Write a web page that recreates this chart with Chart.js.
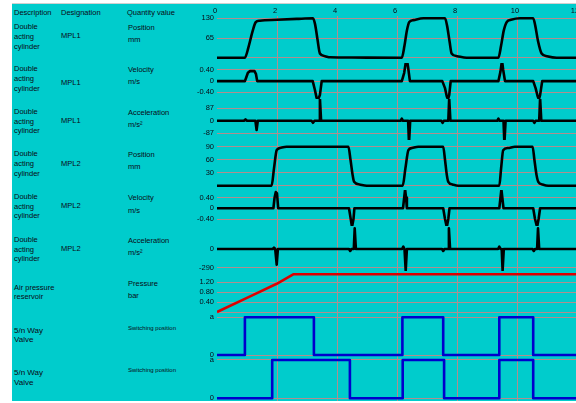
<!DOCTYPE html>
<html><head><meta charset="utf-8">
<script src="https://cdn.jsdelivr.net/npm/chart.js@4.4.0/dist/chart.umd.min.js"></script>
<style>
html,body{margin:0;padding:0;width:576px;height:403px;overflow:hidden;background:#fff;}
#bg{position:absolute;left:12px;top:4px;width:564px;height:397px;background:#00cccc;}
#topline{position:absolute;left:12px;top:3px;width:564px;height:1px;background:#d0d0d0;}
#wrap{position:absolute;left:0;top:0;width:576px;height:403px;overflow:hidden;}
canvas{position:absolute;left:0;top:0;}
.t{position:absolute;font-family:Arial,"Liberation Sans",sans-serif;font-size:7.5px;line-height:10px;color:#0a0a14;white-space:nowrap;}
.s{font-size:6px;}
.b{font-size:8px;}
</style></head><body>
<div id="bg"></div><div id="topline"></div>
<div class="t" style="left:14px;top:7.7px">Description</div>
<div class="t" style="left:61px;top:7.7px">Designation</div>
<div class="t" style="left:127px;top:7.7px">Quantity value</div>

<div class="t" style="left:14px;top:21.7px">Double</div>
<div class="t" style="left:14px;top:31.7px">acting</div>
<div class="t" style="left:14px;top:41.7px">cylinder</div>
<div class="t" style="left:61px;top:31px">MPL1</div>
<div class="t" style="left:128px;top:23px">Position</div>
<div class="t" style="left:128px;top:35px">mm</div>

<div class="t" style="left:14px;top:64.3px">Double</div>
<div class="t" style="left:14px;top:74.3px">acting</div>
<div class="t" style="left:14px;top:83.7px">cylinder</div>
<div class="t" style="left:61px;top:77.7px">MPL1</div>
<div class="t" style="left:128px;top:65px">Velocity</div>
<div class="t" style="left:128px;top:77px">m/s</div>

<div class="t" style="left:14px;top:107px">Double</div>
<div class="t" style="left:14px;top:117px">acting</div>
<div class="t" style="left:14px;top:126.3px">cylinder</div>
<div class="t" style="left:61px;top:116px">MPL1</div>
<div class="t" style="left:128px;top:108px">Acceleration</div>
<div class="t" style="left:128px;top:119.7px">m/s²</div>

<div class="t" style="left:14px;top:149.3px">Double</div>
<div class="t" style="left:14px;top:159px">acting</div>
<div class="t" style="left:14px;top:169px">cylinder</div>
<div class="t" style="left:61px;top:158.7px">MPL2</div>
<div class="t" style="left:128px;top:150.3px">Position</div>
<div class="t" style="left:128px;top:162.3px">mm</div>

<div class="t" style="left:14px;top:191.7px">Double</div>
<div class="t" style="left:14px;top:201.7px">acting</div>
<div class="t" style="left:14px;top:211.3px">cylinder</div>
<div class="t" style="left:61px;top:201px">MPL2</div>
<div class="t" style="left:128px;top:193.3px">Velocity</div>
<div class="t" style="left:128px;top:205.7px">m/s</div>

<div class="t" style="left:14px;top:235px">Double</div>
<div class="t" style="left:14px;top:245px">acting</div>
<div class="t" style="left:14px;top:254.3px">cylinder</div>
<div class="t" style="left:61px;top:243.7px">MPL2</div>
<div class="t" style="left:128px;top:236px">Acceleration</div>
<div class="t" style="left:128px;top:247.7px">m/s²</div>

<div class="t" style="left:14px;top:283.3px">Air pressure</div>
<div class="t" style="left:14px;top:292.3px">reservoir</div>
<div class="t" style="left:128px;top:279px">Pressure</div>
<div class="t" style="left:128px;top:291px">bar</div>

<div class="t b" style="left:14px;top:325.7px">5/n Way</div>
<div class="t b" style="left:14px;top:335px">Valve</div>
<div class="t s" style="left:128px;top:322.7px">Switching position</div>

<div class="t b" style="left:14px;top:368.3px">5/n Way</div>
<div class="t b" style="left:14px;top:377.7px">Valve</div>
<div class="t s" style="left:128px;top:365px">Switching position</div>

<div id="wrap"><canvas id="c" width="600" height="403"></canvas></div>
<script>
// ---- time axis ----
const timeTicks = [0, 2, 4, 6, 8, 10, 12];

// ---- MPL1 position (mm) ----
const mpl1PosT = [0, 0.93, 1.05, 1.18, 1.29, 1.43, 2.0, 2.66, 3.2, 3.27, 3.35, 3.43, 3.6, 3.77, 4.5, 6.16, 6.25, 6.33, 6.41, 6.55, 6.88, 7.6, 7.67, 7.75, 7.82, 8.0, 8.32, 9.38, 9.47, 9.56, 9.66, 9.8, 10.1, 10.54, 10.61, 10.7, 10.82, 11.0, 11.32, 12];
const mpl1PosV = [0, 0, 35, 85, 117, 122, 125, 128, 130, 110, 60, 14, 5, 1.5, 0.5, 0, 40, 90, 118, 124, 130, 130, 105, 55, 14, 5, 0, 0, 40, 90, 118, 125, 130, 130, 105, 55, 14, 5, 0, 0];

// ---- MPL1 velocity (m/s) ----
const mpl1VelT = [0, 0.93, 0.98, 1.03, 1.1, 1.25, 1.3, 1.34, 3.19, 3.26, 3.32, 3.38, 3.43, 3.49, 6.16, 6.24, 6.3, 6.33, 6.37, 6.43, 7.51, 7.6, 7.66, 7.7, 7.74, 7.79, 9.38, 9.45, 9.5, 9.54, 9.6, 10.54, 10.62, 10.69, 10.73, 10.77, 10.84, 12];
const mpl1VelV = [0, 0, 0.15, 0.3, 0.36, 0.36, 0.25, 0, 0, -0.3, -0.6, -0.63, -0.5, 0, 0, 0.3, 0.72, 0.77, 0.5, 0, 0, -0.25, -0.55, -0.65, -0.5, 0, 0, 0.35, 0.74, 0.4, 0, 0, -0.25, -0.55, -0.65, -0.5, 0, 0];

// ---- MPL1 acceleration (m/s²) ----
const mpl1AccT = [0, 0.9, 0.95, 1.0, 1.28, 1.32, 1.36, 3.15, 3.2, 3.25, 3.4, 3.43, 3.47, 6.12, 6.16, 6.2, 6.37, 6.4, 6.44, 7.48, 7.52, 7.56, 7.71, 7.74, 7.78, 9.34, 9.38, 9.42, 9.55, 9.58, 9.62, 10.54, 10.58, 10.62, 10.74, 10.77, 10.81, 12];
const mpl1AccV = [0, 0, 10, 0, 0, -64, 0, 0, -14, 0, 0, 159, 0, 0, 15, 0, 0, -157, 0, 0, -14, 0, 0, 159, 0, 0, 15, 0, 0, -157, 0, 0, -14, 0, 0, 159, 0, 0];

// ---- MPL2 position (mm) ----
const mpl2PosT = [0, 1.82, 1.9, 1.99, 2.1, 2.32, 4.38, 4.45, 4.52, 4.57, 4.75, 4.99, 6.19, 6.28, 6.38, 6.5, 6.71, 7.54, 7.6, 7.66, 7.71, 7.85, 8.04, 9.41, 9.47, 9.54, 9.7, 9.93, 10.52, 10.58, 10.65, 10.71, 10.85, 11.04, 12];
const mpl2PosV = [0, 0, 40, 82, 87, 90, 90, 60, 25, 9, 3, 0, 0, 40, 82, 87, 90, 90, 60, 25, 9, 3, 0, 0, 40, 82, 87, 90, 90, 60, 25, 9, 3, 0, 0];

// ---- MPL2 velocity (m/s) ----
const mpl2VelT = [0, 1.88, 1.92, 1.96, 2.0, 2.04, 4.4, 4.45, 4.5, 4.55, 4.58, 6.2, 6.24, 6.27, 6.3, 6.33, 7.54, 7.6, 7.66, 7.71, 7.75, 9.41, 9.45, 9.48, 9.51, 9.55, 10.54, 10.6, 10.67, 10.72, 10.77, 12];
const mpl2VelV = [0, 0, 0.4, 0.6, 0.55, 0, 0, -0.35, -0.7, -0.4, 0, 0, 0.4, 0.71, 0.4, 0, 0, -0.4, -0.7, -0.4, 0, 0, 0.4, 0.71, 0.4, 0, 0, -0.4, -0.7, -0.4, 0, 0];

// ---- MPL2 acceleration (m/s²) ----
const mpl2AccT = [0, 1.86, 1.9, 1.94, 1.96, 1.99, 2.03, 4.4, 4.44, 4.48, 4.56, 4.59, 4.63, 6.17, 6.21, 6.25, 6.26, 6.29, 6.33, 7.5, 7.54, 7.58, 7.7, 7.73, 7.77, 9.37, 9.41, 9.45, 9.49, 9.52, 9.56, 10.52, 10.56, 10.6, 10.67, 10.7, 10.74, 12];
const mpl2AccV = [0, 0, 20, 0, 0, -240, 0, 0, -30, 0, 0, 315, 0, 0, 35, 0, 0, -330, 0, 0, -30, 0, 0, 315, 0, 0, 35, 0, 0, -330, 0, 0, -30, 0, 0, 315, 0, 0];

// ---- Air pressure reservoir (bar) ----
const pressT = [0, 1.21, 1.99, 2.54, 12];
const pressV = [0.01, 0.7, 1.14, 1.52, 1.52];

// ---- 5/n way valves (0 / a) ----
const valve1T = [0, 0.93, 3.23, 6.18, 7.54, 9.41, 10.54, 12];
const valve1V = [0, 1, 0, 1, 0, 1, 0, 0];
const valve2T = [0, 1.84, 4.43, 6.19, 7.57, 9.41, 10.54, 12];
const valve2V = [0, 1, 0, 1, 0, 1, 0, 0];

// ---- y tick values / labels per panel ----
const p1Ticks = [130, 65, 0],        p1Labels = ['130', '65', ''];
const p2Ticks = [0.4, 0, -0.4],      p2Labels = ['0.40', '0', '-0.40'];
const p3Ticks = [87, 0, -87],        p3Labels = ['87', '0', '-87'];
const p4Ticks = [90, 60, 30, 0],     p4Labels = ['90', '60', '30', ''];
const p5Ticks = [0.4, 0, -0.4],      p5Labels = ['0.40', '0', '-0.40'];
const p6Ticks = [0, -290],           p6Labels = ['0', '-290'];
const p7Ticks = [1.2, 0.8, 0.4, 0],  p7Labels = ['1.20', '0.80', '0.40', ''];
const p8Ticks = [1, 0],              p8Labels = ['a', '0'];
const p9Ticks = [1, 0],              p9Labels = ['a', '0'];

const FONT = {family: 'Arial, "Liberation Sans", sans-serif', size: 7.5};
const TXT = '#0a0a14';
const GRID = '#b08e8e';
const AXIS_W = 217;

function pts(ts, vs) { return ts.map((t, i) => ({x: t, y: vs[i]})); }

function yScale(order, weightH, min, max, ticks, labels) {
  return {
    type: 'linear', position: 'left', stack: 'panels', stackWeight: weightH,
    weight: order, min: min, max: max, offset: false,
    border: {display: false},
    grid: {color: GRID, lineWidth: 1, drawTicks: false},
    ticks: {font: FONT, color: TXT, padding: 3, autoSkip: false, callback: (v, i) => labels[i]},
    afterBuildTicks: s => { s.ticks = ticks.map(v => ({value: v})); },
    afterFit: s => { s.width = AXIS_W; s.paddingTop = 0; s.paddingBottom = 0; }
  };
}

const lineBase = {pointRadius: 0, borderWidth: 2.6, fill: false, borderJoinStyle: 'round'};

new Chart(document.getElementById('c'), {
  type: 'line',
  data: {
    datasets: [
      Object.assign({data: pts(mpl1PosT, mpl1PosV), yAxisID: 'y1', borderColor: '#000', cubicInterpolationMode: 'monotone'}, lineBase),
      Object.assign({data: pts(mpl1VelT, mpl1VelV), yAxisID: 'y2', borderColor: '#000'}, lineBase),
      Object.assign({data: pts(mpl1AccT, mpl1AccV), yAxisID: 'y3', borderColor: '#000'}, lineBase),
      Object.assign({data: pts(mpl2PosT, mpl2PosV), yAxisID: 'y4', borderColor: '#000', cubicInterpolationMode: 'monotone'}, lineBase),
      Object.assign({data: pts(mpl2VelT, mpl2VelV), yAxisID: 'y5', borderColor: '#000'}, lineBase),
      Object.assign({data: pts(mpl2AccT, mpl2AccV), yAxisID: 'y6', borderColor: '#000'}, lineBase),
      Object.assign({data: pts(pressT, pressV), yAxisID: 'y7', borderColor: '#dd0000'}, lineBase),
      Object.assign({data: pts(valve1T, valve1V), yAxisID: 'y8', borderColor: '#0000cc', stepped: 'before', borderJoinStyle: 'miter'}, lineBase),
      Object.assign({data: pts(valve2T, valve2V), yAxisID: 'y9', borderColor: '#0000cc', stepped: 'before', borderJoinStyle: 'miter'}, lineBase)
    ]
  },
  options: {
    responsive: false, animation: false, events: [],
    layout: {padding: {left: 0, top: 0, right: 23, bottom: 2}},
    plugins: {legend: {display: false}, tooltip: {enabled: false}},
    scales: {
      x: {
        type: 'linear', position: 'top', min: 0, max: 12,
        border: {display: false},
        grid: {drawTicks: false, lineWidth: 1,
               color: c => (c.tick && (c.tick.value === 0 || c.tick.value === 12)) ? 'rgba(0,0,0,0)' : GRID},
        ticks: {font: FONT, color: TXT, padding: 1, labelOffset: -2, autoSkip: false, maxRotation: 0},
        afterBuildTicks: s => { s.ticks = timeTicks.map(v => ({value: v})); },
        afterFit: s => { s.height = 16; s.paddingLeft = 0; s.paddingRight = 0; }
      },
      y1: yScale(9, 47, -17.5, 137.6, p1Ticks, p1Labels),
      y2: yScale(8, 36, -0.640, 0.651, p2Ticks, p2Labels),
      y3: yScale(7, 41, -133.6, 151.7, p3Ticks, p3Labels),
      y4: yScale(6, 50, -9.9, 105.5, p4Ticks, p4Labels),
      y5: yScale(5, 36, -0.660, 0.679, p5Ticks, p5Labels),
      y6: yScale(4, 45, -335.8, 351, p6Ticks, p6Labels),
      y7: yScale(3, 44, -0.108, 1.652, p7Ticks, p7Labels),
      y8: yScale(2, 42, -0.053, 1.061, p8Ticks, p8Labels),
      y9: yScale(1, 44, -0.070, 1.078, p9Ticks, p9Labels)
    }
  }
});
</script>
</body></html>
